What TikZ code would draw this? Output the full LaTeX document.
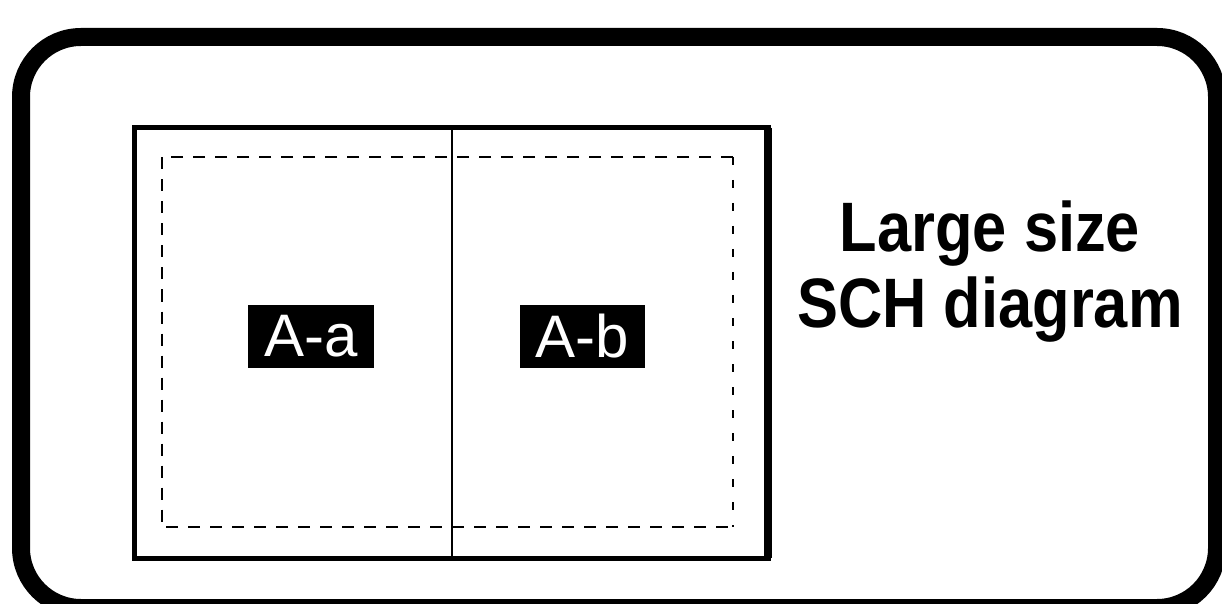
\documentclass[tikz,border=0pt]{standalone}
\usepackage{fontspec}
\setmainfont{Liberation Sans}
\begin{document}
\begin{tikzpicture}[x=1pt,y=1pt,
  frame/.style={line width=18pt,rounded corners=60pt},
  panel/.style={line width=5pt},
  divider/.style={line width=2pt},
  trimline/.style={line width=2pt,dash pattern=on 12pt off 10pt},
  trimedge/.style={line width=2.5pt,dash pattern=on 8pt off 15pt},
  tag/.style={fill=black,text=white,inner sep=0pt,minimum width=126pt,minimum height=63pt,font=\fontsize{60}{60}\selectfont},
  caption/.style={anchor=base,inner sep=0pt,font=\bfseries\fontsize{70}{75}\selectfont}]
\useasboundingbox (0,0) rectangle (1222,603);
\begin{scope}
\clip (0,0) rectangle (1222,603);
\draw[frame] (21,566) rectangle (1217,-5);
\end{scope}
% panel
\coordinate (pNW) at (134,475);
\coordinate (pNE) at (768,475);
\coordinate (pSE) at (768,45);
\coordinate (pSW) at (134,45);
\draw[panel] (pNW) rectangle (pSE);
\draw[line width=8pt] (pNE) -- (pSE);
\coordinate (dT) at (452,475);
\coordinate (dB) at (452,45);
\draw[divider] (dT) -- (dB);
% trim rectangle
\coordinate (tNW) at (161.5,446);
\coordinate (tNE) at (733,446);
\coordinate (tSE) at (733,76);
\coordinate (tSW) at (161.5,76);
\draw[trimline] (tNE) -- (tNW) -- (tSW) -- (tSE);
\draw[trimedge] (tNE) -- (tSE);
% tags
\node[tag] (aa) at (311,266.5) {A-a};
\node[tag,minimum width=125pt] (ab) at (582.5,266.5) {A-b};
% caption
\node[caption] (l1) at (990,351) {\scalebox{0.877}[1]{Large size}};
\node[caption] (l2) at (990,276) {\scalebox{0.877}[1]{SCH diagram}};
\end{tikzpicture}
\end{document}
